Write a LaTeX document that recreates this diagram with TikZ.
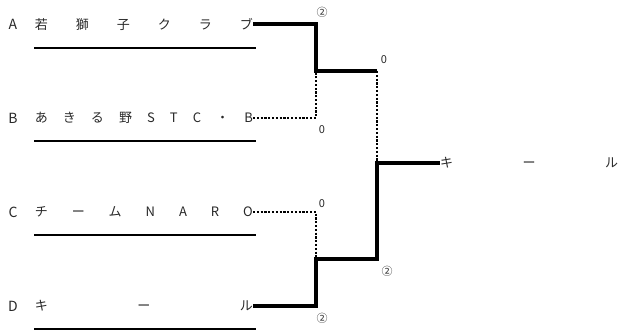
\documentclass[tikz,border=0pt]{standalone}
\usepackage{fontspec}
\setmainfont{Noto Sans CJK JP}
\usepackage{tikz}
\usetikzlibrary{positioning}
\definecolor{inkblack}{RGB}{0, 0, 0}
\definecolor{textgray}{RGB}{40, 40, 40}
\newcommand{\namefont}{\fontsize{13}{15}\selectfont}
\newcommand{\scorefont}{\fontsize{11}{13}\selectfont}

\begin{document}
\begin{tikzpicture}[x=1pt, y=-1pt,
    win/.style={inkblack, line width=3.6pt},
    lose/.style={inkblack, line width=2.2pt, dash pattern=on 2.2pt off 1.6pt},
    rule/.style={inkblack, line width=2pt},
    letter/.style={inner sep=0pt, text=textgray, font=\fontsize{14}{16}\selectfont},
    team/.style={inner sep=0pt, anchor=east, text=textgray, font=\namefont},
    score/.style={inner sep=0pt, text=textgray, font=\scorefont}]
    \useasboundingbox (0,0) rectangle (619,331);
    % teams
    \node[letter] (la) at (13,24) {A};
    \node[letter] (lb) at (13,118) {B};
    \node[letter] (lc) at (13,212) {C};
    \node[letter] (ld) at (13,306) {D};
    \node[team] (ta) at (253,24) {\makebox[218pt][s]{若\hfill 獅\hfill 子\hfill ク\hfill ラ\hfill ブ}};
    \node[team] (tb) at (253,118) {\makebox[218pt][s]{あ\hfill き\hfill る\hfill 野\hfill S\hfill T\hfill C\hfill ・\hfill B}};
    \node[team] (tc) at (253,212) {\makebox[218pt][s]{チ\hfill ー\hfill ム\hfill N\hfill A\hfill R\hfill O}};
    \node[team] (td) at (253,306) {\makebox[218pt][s]{キ\hfill ー\hfill ル}};
    \draw[rule] (34,48) -- (256,48);
    \draw[rule] (34,141) -- (256,141);
    \draw[rule] (34,235) -- (256,235);
    \draw[rule] (34,329) -- (256,329);
    % bracket
    \coordinate (m1) at (316,71);
    \coordinate (m2) at (316,259);
    \coordinate (s1) at (377,71);
    \coordinate (s2) at (377,259);
    \coordinate (f) at (377,163);
    \node[team, anchor=west] (champ) at (440,163) {\makebox[178pt][s]{キ\hfill ー\hfill ル}};
    \draw[win] (ta.east) -| (m1) -- (s1);
    \draw[lose] (tb.east) -| (m1);
    \draw[lose] (tc.east) -| (m2);
    \draw[win] (td.east) -| (m2) -- (s2) -- (f) -- (champ.west);
    \draw[lose] (s1) -- (f);
    % scores
    \node[score] (sa) at (322,12) {②};
    \node[score] (sb) at (322,130) {0};
    \node[score] (sc) at (322,204) {0};
    \node[score] (sd) at (322,318) {②};
    \node[score] (s1l) at (384,60) {0};
    \node[score] (s2l) at (387,271) {②};
\end{tikzpicture}
\end{document}
